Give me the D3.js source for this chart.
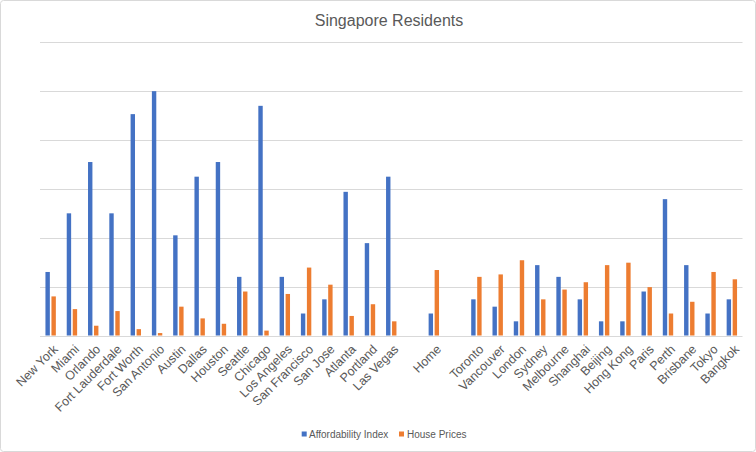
<!DOCTYPE html>
<html>
<head>
<meta charset="utf-8">
<script src="https://cdn.jsdelivr.net/npm/d3@7"></script>
<style>
  html, body { margin: 0; padding: 0; background: #fff; }
  svg { display: block; font-family: "Liberation Sans", Arial, sans-serif; }
</style>
</head>
<body>
<div id="chart"></div>
<script>
const title = "Singapore Residents";
const categories = ["New York","Miami","Orlando","Fort Lauderdale","Fort Worth","San Antonio","Austin","Dallas","Houston","Seattle","Chicago","Los Angeles","San Francisco","San Jose","Atlanta","Portland","Las Vegas","","Home","","Toronto","Vancouver","London","Sydney","Melbourne","Shanghai","Beijing","Hong Kong","Paris","Perth","Brisbane","Tokyo","Bangkok"];
const affordability = [13,25,35.5,25,45.3,50,20.5,32.5,35.5,12,47,12,4.5,7.4,29.4,18.9,32.5,null,4.5,null,7.4,5.9,2.9,14.4,12,7.4,2.9,2.9,9,27.9,14.4,4.5,7.4];
const housePrices = [8,5.4,2,5,1.3,0.5,5.9,3.5,2.4,9,1,8.5,13.9,10.4,4,6.4,2.9,null,13.4,null,12,12.5,15.4,7.4,9.4,10.9,14.4,14.9,9.9,4.5,6.9,13,11.5];
const seriesNames = ["Affordability Index","House Prices"];
const colors = ["#4472C4","#ED7D31"];
const yTicks = [0,10,20,30,40,50,60];

const W = 756, H = 452;
const plot = {left: 40, right: 742.5, top: 42.3, bottom: 335.5};

const svg = d3.select("#chart").append("svg").attr("width", W).attr("height", H);

svg.append("rect").attr("x",0.5).attr("y",0.5).attr("width",W-1).attr("height",H-1)
  .attr("rx",3).attr("fill","#fff").attr("stroke","#d9d9d9");

svg.append("text").attr("x",389).attr("y",25.7).attr("text-anchor","middle")
  .attr("font-size",16).attr("fill","#595959").text(title);

const x = d3.scaleBand().domain(d3.range(categories.length)).range([plot.left, plot.right]).padding(0);
const y = d3.scaleLinear().domain([0,60]).range([plot.bottom, plot.top]);

// gridlines
svg.append("g").selectAll("line").data(yTicks).join("line")
  .attr("x1",plot.left).attr("x2",plot.right)
  .attr("y1",d=>Math.round(y(d))+0.5).attr("y2",d=>Math.round(y(d))+0.5)
  .attr("stroke","#d9d9d9").attr("stroke-width",1);

const bw = 4.4;
const series = [affordability, housePrices];
series.forEach((vals, si) => {
  svg.append("g").selectAll("rect")
    .data(vals.map((v,i)=>({v,i})).filter(d=>d.v!=null))
    .join("rect")
    .attr("x", d => x(d.i) + x.bandwidth()/2 + (si===0 ? -bw-0.8 : 0.8))
    .attr("width", bw)
    .attr("y", d => y(d.v))
    .attr("height", d => y(0) - y(d.v))
    .attr("fill", colors[si]);
});

// category labels
svg.append("g").selectAll("text").data(categories.map((c,i)=>({c,i})).filter(d=>d.c!==""))
  .join("text")
  .attr("transform", d => `translate(${x(d.i)+x.bandwidth()/2+8},${350}) rotate(-45)`)
  .attr("text-anchor","end")
  .attr("font-size",12.5).attr("fill","#595959")
  .text(d=>d.c);

// legend
const legend = [{x:301.7, tx:309}, {x:399, tx:407}];
legend.forEach((l,i)=>{
  svg.append("rect").attr("x",l.x).attr("y",431.5).attr("width",5).attr("height",5).attr("fill",colors[i]);
  svg.append("text").attr("x",l.tx).attr("y",437.5).attr("font-size",10).attr("fill","#595959").text(seriesNames[i]);
});
</script>
</body>
</html>
